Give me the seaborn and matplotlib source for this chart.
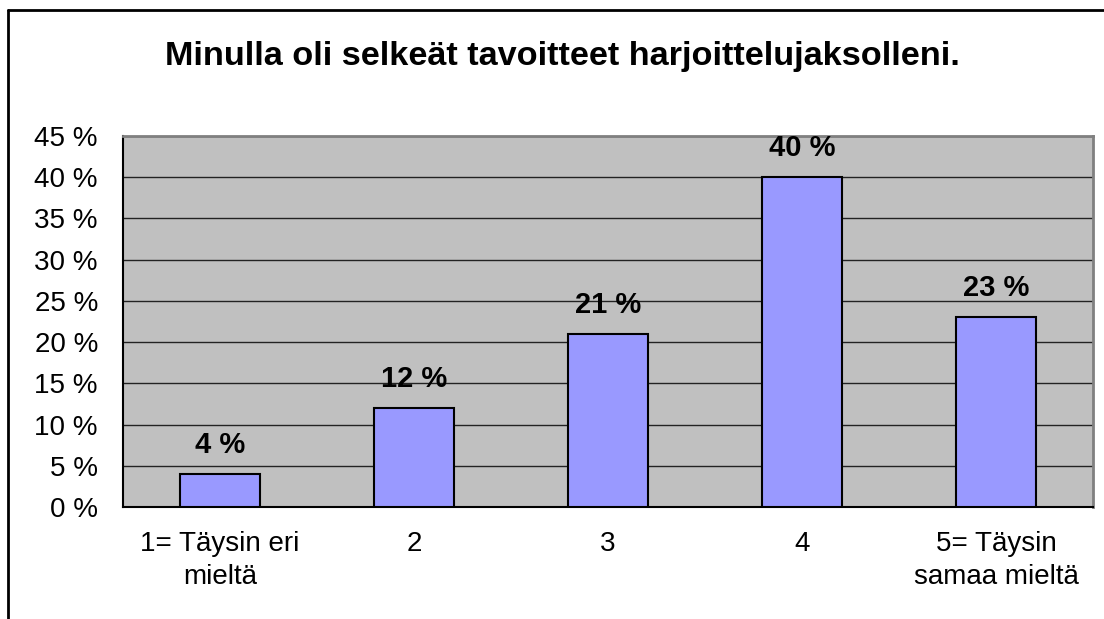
import matplotlib
matplotlib.use("Agg")
import matplotlib.pyplot as plt
import matplotlib.ticker as mticker
from matplotlib.lines import Line2D
import seaborn as sns
import pandas as pd

# data
categories = ["1= Täysin eri\nmieltä", "2", "3", "4", "5= Täysin\nsamaa mieltä"]
values = [4, 12, 21, 40, 23]
title = "Minulla oli selkeät tavoitteet harjoittelujaksolleni."

df = pd.DataFrame({"vastaus": categories, "osuus": values})

sns.set_style("white")
plt.rcParams["font.family"] = ["Liberation Sans", "DejaVu Sans"]
plt.rcParams["text.color"] = "black"
plt.rcParams["xtick.labelcolor"] = "black"
plt.rcParams["ytick.labelcolor"] = "black"

fig = plt.figure(figsize=(11.04, 6.19), dpi=100)
ax = fig.add_axes([123 / 1104, 1 - 507 / 619, (1093 - 123) / 1104, (507 - 136) / 619])

sns.barplot(data=df, x="vastaus", y="osuus", order=categories, color="#9999FF",
            saturation=1, width=0.41, edgecolor="black", linewidth=1.5, ax=ax, zorder=3)

ax.set_facecolor("#C0C0C0")
ax.set_ylim(0, 45)
ax.set_xlim(-0.5, len(categories) - 0.5)
ax.yaxis.set_major_locator(mticker.MultipleLocator(5))
ax.yaxis.set_major_formatter(mticker.FuncFormatter(lambda v, p: f"{v:.0f} %"))
ax.grid(axis="y", color="#222222", linewidth=1, zorder=1)
ax.set_axisbelow(True)

# x ticks at category boundaries, labels at centres
ax.set_xticks(range(len(categories)))
ax.set_xticklabels(categories, fontsize=20, linespacing=1.38)
ax.set_xticks([i - 0.5 for i in range(len(categories) + 1)], minor=True)
ax.tick_params(axis="x", which="major", length=0, pad=17)
ax.tick_params(axis="x", which="minor", length=6, width=1, color="#333333", direction="out")
ax.tick_params(axis="y", length=6, width=1.5, color="#606060", direction="out", labelsize=20, pad=12)
ax.set_xlabel("")
ax.set_ylabel("")

for side in ["left", "bottom"]:
    ax.spines[side].set_color("black")
    ax.spines[side].set_linewidth(1.5)
for side in ["top", "right"]:
    ax.spines[side].set_color("#808080")
    ax.spines[side].set_linewidth(2)

for i, v in enumerate(values):
    ax.annotate(f"{v} %", (i, v), xytext=(0, 11), textcoords="offset points",
                ha="center", va="bottom", fontsize=21, fontweight="bold")

fig.text(562 / 1104, 1 - 57 / 619, title, ha="center", va="center",
         fontsize=24.7, fontweight="bold")

# chart frame (only left and top edges visible in the crop)
fig.add_artist(Line2D([8 / 1104, 8 / 1104], [0, 1 - 10 / 619], transform=fig.transFigure,
                      color="black", linewidth=2))
fig.add_artist(Line2D([8 / 1104, 1], [1 - 10 / 619, 1 - 10 / 619], transform=fig.transFigure,
                      color="black", linewidth=2))

fig.savefig("out.png", dpi=100, facecolor="white")
